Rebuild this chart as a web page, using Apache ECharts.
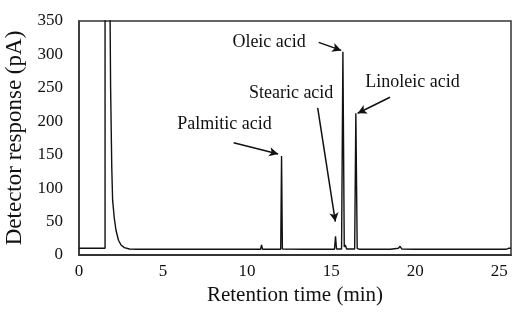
<!DOCTYPE html>
<html>
<head>
<meta charset="utf-8">
<script src="https://cdn.jsdelivr.net/npm/echarts@6/dist/echarts.min.js"></script>
<style>
  html, body { margin: 0; padding: 0; background: #fff; }
  #chart { width: 513px; height: 314px; }
</style>
</head>
<body>
<div id="chart"></div>
<script>
// chromatogram, retention time (min) / detector response (pA)
var times = [0, 1.55, 1.55, 1.83, 1.88, 1.95, 2.0, 2.1, 2.2, 2.35, 2.5, 2.7, 3.0, 3.5, 6.38, 6.42, 6.46,
  8.0, 10.8, 10.86, 10.92, 12.0, 12.05, 12.1, 12.2, 13.5, 15.2, 15.26, 15.32, 15.62, 15.7, 15.78, 15.84,
  15.92, 16.4, 16.47, 16.55, 16.7, 17.4, 17.45, 17.5, 18.5, 18.58, 18.66, 19.0, 19.1, 19.2, 20.0, 25.4,
  25.55, 25.7];
var response = [10, 10, 420, 420, 250, 130, 82, 55, 37, 22, 15, 11, 9, 8.5, 8.5, 10, 8.5,
  8.5, 8.5, 15, 8.5, 8.5, 148, 9, 8, 8.5, 8.5, 28, 9, 9, 304, 12, 15,
  9, 9, 212, 10, 8.5, 8.5, 10, 8.5, 8.5, 11, 9, 10, 13, 9, 8.5, 8.5,
  10, 10];

// peak labels and arrows (data coords)
var peakNames = ['Palmitic acid', 'Stearic acid', 'Oleic acid', 'Linoleic acid'];
var labelPos = [[8.65, 196], [12.62, 242], [11.31, 318], [19.84, 258]];
var arrowFrom = [[9.2, 168], [14.2, 220], [14.26, 318], [18.5, 236]];
var arrowTo = [[11.85, 151], [15.25, 50], [15.6, 306], [16.58, 212]];

var xTicks = [0, 5, 10, 15, 20, 25];

var font = 'Liberation Serif';

function initECharts(el, options) {
  var myEchart = echarts.init(el);
  myEchart.setOption(options);
  return myEchart;
}

var seriesData = times.map(function (t, i) { return [t, response[i]]; });

var options = {
  animation: false,
  backgroundColor: '#fff',
  grid: {
    left: 79, right: 2, top: 21, bottom: 59,
    outerBoundsMode: 'none',
    show: true, borderColor: '#333', borderWidth: 1.5
  },
  xAxis: {
    type: 'value', min: 0, max: 25.7, interval: 5,
    name: 'Retention time (min)', nameLocation: 'middle', nameGap: 26,
    nameTextStyle: { fontFamily: font, fontSize: 21, color: '#111' },
    axisLine: { show: true, lineStyle: { color: '#333', width: 2 } },
    axisTick: { show: false },
    splitLine: { show: false },
    axisLabel: {
      margin: 8, fontFamily: font, fontSize: 17, color: '#111',
      formatter: function (v) { return xTicks.indexOf(v) >= 0 ? String(v) : ''; }
    }
  },
  yAxis: {
    type: 'value', min: 0, max: 350, interval: 50,
    name: 'Detector response (pA)', nameLocation: 'middle', nameGap: 44,
    nameTextStyle: { fontFamily: font, fontSize: 23, color: '#111' },
    axisLine: { show: true, lineStyle: { color: '#333', width: 1.5 } },
    axisTick: { show: false },
    splitLine: { show: false },
    axisLabel: { margin: 16, fontFamily: font, fontSize: 17, color: '#111' }
  },
  series: [{
    type: 'line',
    data: seriesData,
    showSymbol: false,
    clip: true,
    lineStyle: { color: '#111', width: 1.4 },
    markLine: {
      silent: true,
      symbol: ['none', 'arrow'],
      symbolSize: [7, 9],
      label: { show: false },
      lineStyle: { color: '#111', width: 1.5, type: 'solid' },
      data: arrowFrom.map(function (p, i) {
        return [{ coord: p }, { coord: arrowTo[i] }];
      })
    },
    markPoint: {
      silent: true,
      symbol: 'circle',
      symbolSize: 1,
      itemStyle: { color: 'rgba(0,0,0,0)' },
      label: {
        show: true, position: 'inside', formatter: '{b}',
        fontFamily: font, fontSize: 18, color: '#111'
      },
      data: peakNames.map(function (n, i) {
        return { name: n, coord: labelPos[i] };
      })
    }
  }]
};

initECharts(document.getElementById('chart'), options);
</script>
</body>
</html>
